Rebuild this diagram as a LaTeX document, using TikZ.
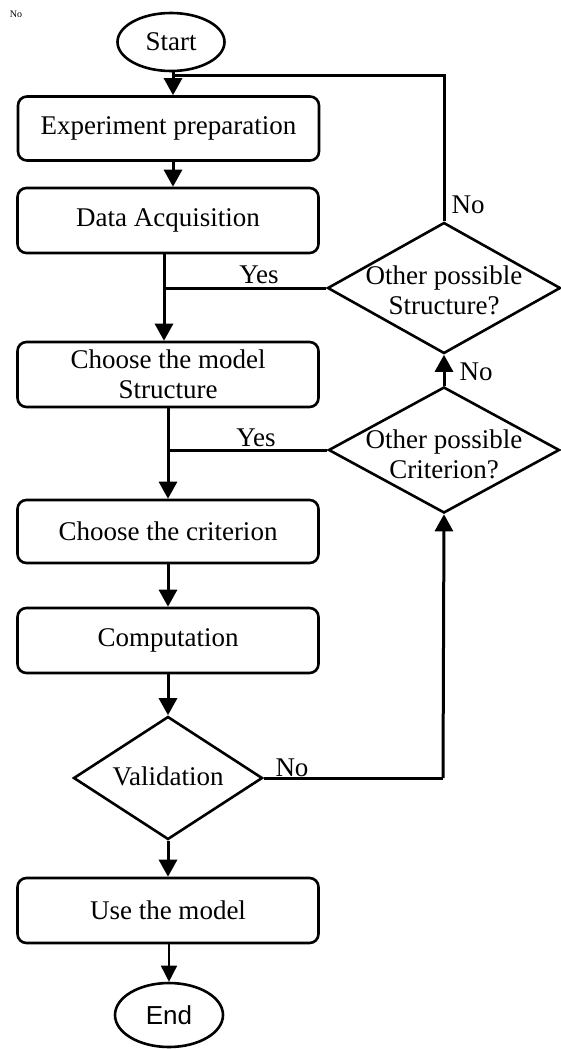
\documentclass[tikz,border=0pt]{standalone}
\usepackage{fontspec}
\setmainfont{Liberation Serif}
\newfontfamily\sansf{Liberation Sans}
\usetikzlibrary{shapes.geometric,arrows.meta}
\tikzset{
  txt/.style={font=\fontsize{27}{30}\selectfont, align=center},
  box/.style={draw, line width=2.6pt, rounded corners=9pt, rectangle, minimum width=301pt, inner sep=0pt, txt},
  oval/.style={draw, line width=2.6pt, ellipse, inner sep=0pt, txt},
  dia/.style={draw, line width=2.6pt, diamond, inner sep=0pt},
  conn/.style={line width=3pt},
  arr/.style={conn, -{Triangle[width=18pt,length=17pt]}},
  thinarr/.style={line width=1.6pt, -{Triangle[width=16pt,length=16pt]}},
  lbl/.style={txt, anchor=base, inner sep=0pt}
}
\begin{document}
\begin{tikzpicture}[x=1pt,y=-1pt]
\useasboundingbox (0,0) rectangle (560,1049);
% small label top-left
\node[font=\fontsize{10}{12}\selectfont, inner sep=0pt] (tiny) at (16,14) {No};
% nodes
\node[oval, minimum width=107pt, minimum height=58pt] (start) at (171,42) {Start};
\node[box, minimum height=64pt] (exp) at (168.5,128.5) {Experiment preparation};
\node[box, minimum height=65pt] (da) at (168,220.5) {Data Acquisition};
\node[box, minimum height=65pt] (cm) at (168,374.5) {Choose the model\\Structure};
\node[box, minimum height=63pt] (cc) at (168,531.5) {Choose the criterion};
\node[box, minimum height=65pt] (comp) at (168,640.5) {Computation};
\node[dia, minimum width=189pt, minimum height=123pt] (val) at (168,778) {};
\node[txt, inner sep=0pt] (valt) at (168,776) {Validation};
\node[box, minimum height=65pt] (use) at (168,910.5) {Use the model};
\node[oval, minimum width=108pt, minimum height=64pt, font=\sansf\fontsize{26}{30}\selectfont] (end) at (169,1015) {End};
\node[dia, minimum width=233pt, minimum height=131pt] (d1) at (444,288) {};
\node[txt, inner sep=0pt] (d1t) at (444,290) {Other possible\\Structure?};
\node[dia, minimum width=231pt, minimum height=126pt] (d2) at (444,450) {};
\node[txt, inner sep=0pt] (d2t) at (444,454) {Other possible\\Criterion?};
% coordinates
\coordinate (fb) at (173,75);
\coordinate (j1) at (164,288);
\coordinate (j2) at (168,450);
\coordinate (v1) at (443,778);
% connectors
\draw[arr] (start.south -| fb) -- (fb |- exp.north);
\draw[conn] (d1.north) |- (fb);
\draw[arr] (fb |- exp.south) -- (fb |- da.north);
\draw[arr] (j1 |- da.south) -- (j1 |- cm.north);
\draw[conn] (d1.west) -- (j1);
\draw[arr] (j2 |- cm.south) -- (j2 |- cc.north);
\draw[conn] (d2.west) -- (j2);
\draw[arr] (d2.north) -- (d1.south);
\draw[arr] (cc.south) -- (comp.north);
\draw[arr] (comp.south) -- (val.north);
\draw[conn] (val.east) -- (v1);
\draw[arr] (v1) -- (d2.south);
\draw[arr] (val.south) -- (use.north);
\draw[thinarr] (use.south -| end) -- (end.north);
% labels
\node[lbl] (y1) at (259,283) {Yes};
\node[lbl] (n1) at (468,213) {No};
\node[lbl] (y2) at (256,446) {Yes};
\node[lbl] (n2) at (476,380) {No};
\node[lbl] (n3) at (292,776) {No};
\end{tikzpicture}
\end{document}
